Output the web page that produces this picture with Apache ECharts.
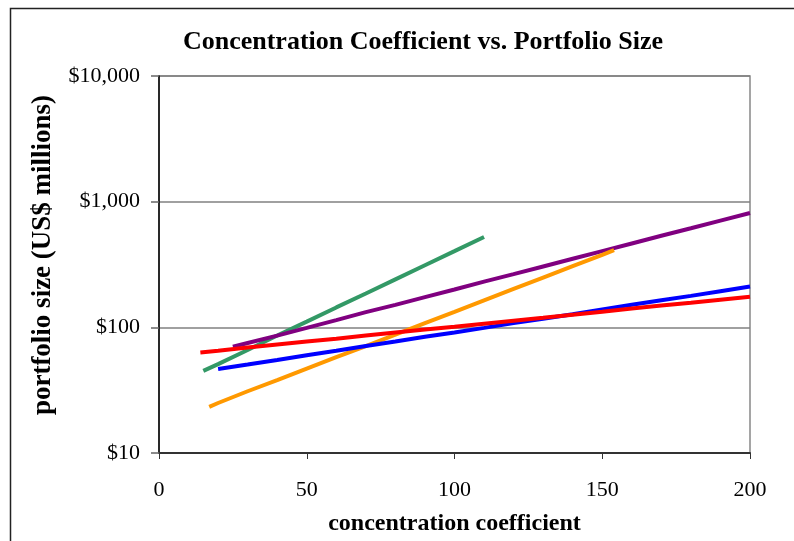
<!DOCTYPE html>
<html>
<head>
<meta charset="utf-8">
<script src="https://cdn.jsdelivr.net/npm/echarts@6/dist/echarts.min.js"></script>
<style>html,body{margin:0;padding:0;background:#fff;}#c{width:794px;height:541px;}</style>
</head>
<body>
<div id="c"></div>
<script>
var titleText = 'Concentration Coefficient vs. Portfolio Size';
var xName = 'concentration coefficient';
var yName = 'portfolio size (US$ millions)';
var xTicks = [0, 50, 100, 150, 200];
var yTicks = [10, 100, 1000, 10000];

var greenX = [15, 20, 30, 40, 50, 60, 70, 80, 90, 100, 110];
var greenY = [45, 51, 66, 86, 111, 144, 186, 241, 312, 404, 524];

var purpleX = [25, 30, 40, 50, 60, 70, 80, 90, 100, 110, 120, 130, 140, 150, 160, 170, 180, 190, 200];
var purpleY = [70, 75, 86, 99, 114, 132, 151, 174, 200, 231, 265, 305, 351, 404, 465, 535, 614, 707, 813];

var orangeX = [17, 20, 30, 40, 50, 60, 70, 80, 90, 100, 110, 120, 130, 140, 150, 154];
var orangeY = [23.3, 25, 31, 38, 47, 58, 71, 87.5, 108, 133, 164, 202, 249, 307, 378, 411];

var blueX = [20, 30, 40, 50, 60, 70, 80, 90, 100, 110, 120, 130, 140, 150, 160, 170, 180, 190, 200];
var blueY = [46.6, 50.6, 55, 60, 65, 71, 77, 84, 91, 99, 108, 117, 127, 139, 151, 164, 178, 194, 211];

var redX = [14, 20, 30, 40, 50, 60, 70, 80, 90, 100, 110, 120, 130, 140, 150, 160, 170, 180, 190, 200];
var redY = [63, 65, 69, 73, 77, 81, 86, 91, 96, 101, 107, 113, 119, 126, 133, 141, 149, 157, 166, 175];

function pairs(xs, ys) { return xs.map(function (x, i) { return [x, ys[i]]; }); }

var FONT = '"Liberation Serif", "Times New Roman", serif';
function line(name, xs, ys, color) {
  return {
    name: name, type: 'line', data: pairs(xs, ys), showSymbol: false, symbol: 'none',
    lineStyle: { color: color, width: 4 }, itemStyle: { color: color }, smooth: false
  };
}

var chart = echarts.init(document.getElementById('c'), null, { renderer: 'canvas' });
chart.setOption({
  animation: false,
  backgroundColor: '#fff',
  graphic: [{
    type: 'rect', left: 8, top: 6, shape: { x: 0, y: 0, width: 800, height: 600 },
    style: { fill: 'none', stroke: '#222', lineWidth: 1.5 }, silent: true, z: -1
  }, {
    type: 'text', x: 43, y: 255, rotation: Math.PI / 2,
    style: {
      text: yName, fill: '#000', font: 'bold 27px ' + FONT,
      textAlign: 'center', textVerticalAlign: 'middle'
    }
  }],
  title: {
    text: titleText, left: 418, top: 24, textAlign: 'center',
    textStyle: { fontFamily: FONT, fontSize: 26, fontWeight: 'bold', color: '#000' }
  },
  grid: { left: 159, right: 44, top: 76, bottom: 88, show: true, borderColor: '#888', borderWidth: 1.5 },
  xAxis: {
    type: 'value', min: xTicks[0], max: xTicks[xTicks.length - 1], interval: 50,
    name: xName, nameLocation: 'middle', nameGap: 59,
    nameTextStyle: { fontFamily: FONT, fontSize: 24, fontWeight: 'bold', color: '#000' },
    axisLine: { show: true, lineStyle: { color: '#333', width: 2 } },
    axisTick: { show: true, length: 6, inside: false, lineStyle: { color: '#333', width: 1 } },
    axisLabel: { fontFamily: FONT, fontSize: 22, color: '#000', margin: 26 },
    splitLine: { show: false }
  },
  yAxis: {
    type: 'log', logBase: 10, min: yTicks[0], max: yTicks[yTicks.length - 1],
    axisLine: { show: true, lineStyle: { color: '#000', width: 1.5 } },
    axisTick: { show: true, length: 8, inside: false, lineStyle: { color: '#666', width: 1.5 } },
    axisLabel: {
      fontFamily: FONT, fontSize: 22, color: '#000', margin: 19,
      formatter: function (v) { return '$' + Number(v).toLocaleString('en-US'); }
    },
    splitLine: { show: true, lineStyle: { color: '#808080', width: 1.5 } },
    minorTick: { show: false }
  },
  series: [
    line('green', greenX, greenY, '#339966'),
    line('purple', purpleX, purpleY, '#800080'),
    line('orange', orangeX, orangeY, '#FF9900'),
    line('blue', blueX, blueY, '#0000FF'),
    line('red', redX, redY, '#FF0000')
  ]
});
</script>
</body>
</html>
